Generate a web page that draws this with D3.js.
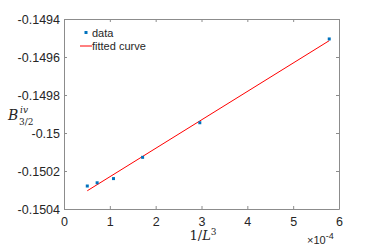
<!DOCTYPE html>
<html>
<head>
<meta charset="utf-8">
<script src="https://cdn.jsdelivr.net/npm/d3@7"></script>
<style>
  body { margin: 0; background: #fff; }
  svg text { font-family: "Liberation Sans", Arial, sans-serif; fill: #262626; }
  .math { font-family: "DejaVu Serif", "Liberation Serif", serif; font-style: italic; }
</style>
</head>
<body>
<div id="chart"></div>
<script>
// 1/L^3 for L = 27, 24, 21, 18, 15, 12
const xData = [0.508e-4, 0.723e-4, 1.080e-4, 1.715e-4, 2.963e-4, 5.787e-4];
const yData = [-0.150279, -0.150262, -0.150240, -0.150128, -0.149946, -0.149505];

// fitted line, read at its two ends
const fitX = [0.508e-4, 5.787e-4];
const fitY = [-0.150304, -0.149514];

const xTicks = [0, 1e-4, 2e-4, 3e-4, 4e-4, 5e-4, 6e-4];
const xTickLabels = ["0", "1", "2", "3", "4", "5", "6"];
const yTicks = [-0.1504, -0.1502, -0.15, -0.1498, -0.1496, -0.1494];
const yTickLabels = ["-0.1504", "-0.1502", "-0.15", "-0.1498", "-0.1496", "-0.1494"];

const W = 374, H = 247;
const margin = { top: 19, right: 35, bottom: 38, left: 64 };

const svg = d3.select("#chart").append("svg")
    .attr("width", W)
    .attr("height", H);

const x = d3.scaleLinear().domain([0, 6e-4]).range([margin.left, W - margin.right]);
const y = d3.scaleLinear().domain([-0.1504, -0.1494]).range([H - margin.bottom, margin.top]);

const axisColor = "#8c8c8c";

function styleAxis(g) {
    g.select(".domain").attr("stroke", axisColor);
    g.selectAll(".tick line").attr("stroke", axisColor);
    g.selectAll(".tick text").style("font-size", "12.5px").attr("fill", "#262626");
}

// bottom + top
svg.append("g")
    .attr("transform", `translate(0,${H - margin.bottom})`)
    .call(d3.axisBottom(x).tickValues(xTicks).tickFormat((d, i) => xTickLabels[i])
        .tickSizeInner(-3).tickSizeOuter(0).tickPadding(8))
    .call(styleAxis);

svg.append("g")
    .attr("transform", `translate(0,${margin.top})`)
    .call(d3.axisTop(x).tickValues(xTicks).tickFormat("")
        .tickSizeInner(-3).tickSizeOuter(0))
    .call(styleAxis);

// left + right
svg.append("g")
    .attr("transform", `translate(${margin.left},0)`)
    .call(d3.axisLeft(y).tickValues(yTicks).tickFormat((d, i) => yTickLabels[i])
        .tickSizeInner(-3).tickSizeOuter(0).tickPadding(4))
    .call(styleAxis);

svg.append("g")
    .attr("transform", `translate(${W - margin.right},0)`)
    .call(d3.axisRight(y).tickValues(yTicks).tickFormat("")
        .tickSizeInner(-3).tickSizeOuter(0))
    .call(styleAxis);

// fitted line
svg.append("path")
    .datum(fitX.map((d, i) => [d, fitY[i]]))
    .attr("fill", "none")
    .attr("stroke", "#ff0000")
    .attr("stroke-width", 1)
    .attr("d", d3.line().x(d => x(d[0])).y(d => y(d[1])));

// data points
svg.selectAll("rect.pt")
    .data(xData.map((d, i) => [d, yData[i]]))
    .join("rect")
    .attr("class", "pt")
    .attr("x", d => x(d[0]) - 1.5)
    .attr("y", d => y(d[1]) - 1.5)
    .attr("width", 3)
    .attr("height", 3)
    .attr("fill", "#0072bd");

// legend
const leg = svg.append("g");
leg.append("rect").attr("x", 84.5).attr("y", 31).attr("width", 3).attr("height", 3).attr("fill", "#0072bd");
leg.append("text").attr("x", 92).attr("y", 37).style("font-size", "11px").text("data");
leg.append("line").attr("x1", 80).attr("x2", 92).attr("y1", 46).attr("y2", 46)
    .attr("stroke", "#ff0000").attr("stroke-width", 1);
leg.append("text").attr("x", 92).attr("y", 50).style("font-size", "11px").text("fitted curve");

// x label 1/L^3
const xl = svg.append("text").attr("class", "math")
    .attr("x", 203).attr("y", 240).attr("text-anchor", "middle").style("font-size", "13px");
xl.append("tspan").style("font-style", "normal").text("1/");
xl.append("tspan").text("L");
xl.append("tspan").attr("dy", -5).style("font-size", "9px").style("font-style", "normal").text("3");

// exponent label
const ex = svg.append("text").attr("x", 307).attr("y", 244).style("font-size", "11px");
ex.append("tspan").text("\u00d710");
ex.append("tspan").attr("dy", -5).style("font-size", "9px").text("-4");

// y label B_{3/2}^{iv}
const yl = svg.append("g").attr("transform", "translate(8,120)");
yl.append("text").attr("class", "math").style("font-size", "14px").text("B");
yl.append("text").attr("class", "math").attr("x", 12).attr("y", -7).style("font-size", "9px").text("iv");
yl.append("text").attr("class", "math").attr("x", 11).attr("y", 5).style("font-size", "9px")
    .style("font-style", "normal").text("3/2");
</script>
</body>
</html>
